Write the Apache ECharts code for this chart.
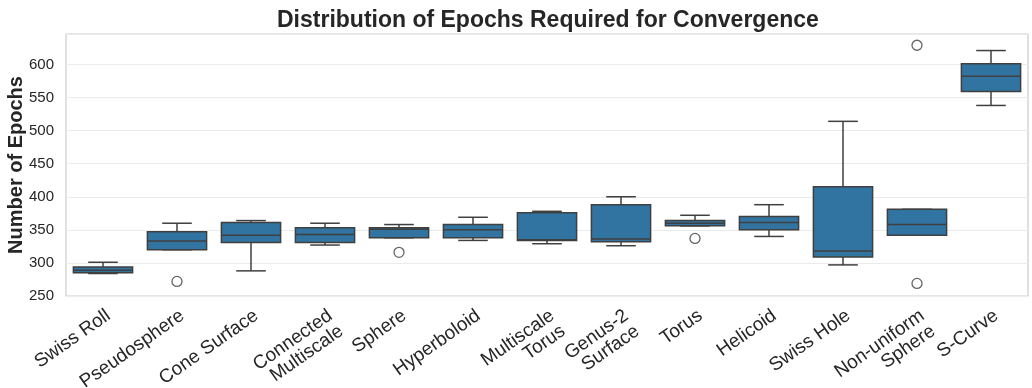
<!DOCTYPE html>
<html>
<head>
<meta charset="utf-8">
<script src="https://cdn.jsdelivr.net/npm/echarts@6/dist/echarts.min.js"></script>
<style>
html,body{margin:0;padding:0;background:#fff;}
#c{width:1032px;height:388px;}
</style>
</head>
<body>
<div id="c"></div>
<script>
const categories = ['Swiss Roll','Pseudosphere','Cone Surface','Connected\nMultiscale','Sphere','Hyperboloid','Multiscale\nTorus','Genus-2\nSurface','Torus','Helicoid','Swiss Hole','Non-uniform\nSphere','S-Curve'];
const whiskerLow  = [284, 320, 288, 327, 338, 334, 329, 326, 356, 340, 297, 342, 538];
const q1          = [285, 320, 331, 331, 338, 338, 334, 332, 356, 350, 309, 342, 559];
const median      = [289, 333, 342, 343, 351, 350, 335, 336, 360, 361, 318, 358, 582];
const q3          = [294, 347, 361, 353, 353, 358, 376, 388, 364, 370, 415, 381, 601];
const whiskerHigh = [301, 360, 364, 360, 358, 369, 378, 400, 372, 388, 514, 381, 621];
const outlierCategory = [1, 4, 8, 11, 11];
const outlierValue    = [272, 316, 337, 629, 269];
const yTicks = [250, 300, 350, 400, 450, 500, 550, 600];

const FONT = "'Liberation Sans', Arial, sans-serif";
const boxData = categories.map((c, i) => [i, whiskerLow[i], q1[i], median[i], q3[i], whiskerHigh[i]]);
const outlierData = outlierCategory.map((c, i) => [c, outlierValue[i]]);

const chart = echarts.init(document.getElementById('c'), null, {renderer: 'canvas'});
const LINE = '#3f3f3f';
chart.setOption({
  animation: false,
  backgroundColor: '#ffffff',
  title: {
    text: 'Distribution of Epochs Required for Convergence',
    left: 272, top: 4,
    textStyle: {fontFamily: FONT, fontSize: 23, fontWeight: 'bold', color: '#262626'}
  },
  grid: {left: 66, right: 4, top: 34, bottom: 92, containLabel: false, outerBoundsMode: 'none',
    show: true, borderColor: '#cccccc', borderWidth: 1.2, backgroundColor: 'transparent'},
  xAxis: {
    type: 'category',
    data: categories,
    boundaryGap: true,
    axisLine: {show: false},
    axisTick: {show: false},
    splitLine: {show: false},
    axisLabel: {interval: 0, rotate: 35, margin: 10, verticalAlign: 'top', fontFamily: FONT, fontSize: 19, color: '#262626'}
  },
  yAxis: {
    type: 'value',
    min: yTicks[0], max: 646, interval: 50,
    name: 'Number of Epochs',
    nameLocation: 'middle',
    nameGap: 40,
    nameMoveOverlap: false,
    nameTextStyle: {fontFamily: FONT, fontSize: 20, fontWeight: 'bold', color: '#262626'},
    axisLine: {show: false},
    axisTick: {show: false},
    splitLine: {show: true, lineStyle: {color: '#ebebeb', width: 1}},
    axisLabel: {margin: 12, fontFamily: FONT, fontSize: 15, color: '#262626',
      formatter: v => yTicks.indexOf(v) >= 0 ? String(v) : ''}
  },
  series: [
    {
      type: 'custom',
      data: boxData,
      encode: {x: 0, y: [1, 2, 3, 4, 5]},
      renderItem: function (params, api) {
        const i = api.value(0);
        const band = api.size([1, 0])[0];
        const bw = band * 0.8, cw = band * 0.4;
        const lo = api.coord([i, api.value(1)]);
        const a = api.coord([i, api.value(2)]);
        const m = api.coord([i, api.value(3)]);
        const b = api.coord([i, api.value(4)]);
        const hi = api.coord([i, api.value(5)]);
        const x = lo[0];
        const ls = {stroke: LINE, lineWidth: 1.5};
        return {
          type: 'group',
          children: [
            {type: 'line', shape: {x1: x, y1: a[1], x2: x, y2: lo[1]}, style: ls},
            {type: 'line', shape: {x1: x, y1: b[1], x2: x, y2: hi[1]}, style: ls},
            {type: 'line', shape: {x1: x - cw / 2, y1: lo[1], x2: x + cw / 2, y2: lo[1]}, style: ls},
            {type: 'line', shape: {x1: x - cw / 2, y1: hi[1], x2: x + cw / 2, y2: hi[1]}, style: ls},
            {type: 'rect', shape: {x: x - bw / 2, y: b[1], width: bw, height: a[1] - b[1]}, style: {fill: '#3274a1', stroke: LINE, lineWidth: 1.5}},
            {type: 'line', shape: {x1: x - bw / 2, y1: m[1], x2: x + bw / 2, y2: m[1]}, style: ls}
          ]
        };
      },
      z: 2
    },
    {
      type: 'scatter',
      data: outlierData,
      symbol: 'circle',
      symbolSize: 10,
      itemStyle: {color: 'rgba(255,255,255,0)', borderColor: LINE, borderWidth: 1.3},
      z: 3
    }
  ]
});
</script>
</body>
</html>
